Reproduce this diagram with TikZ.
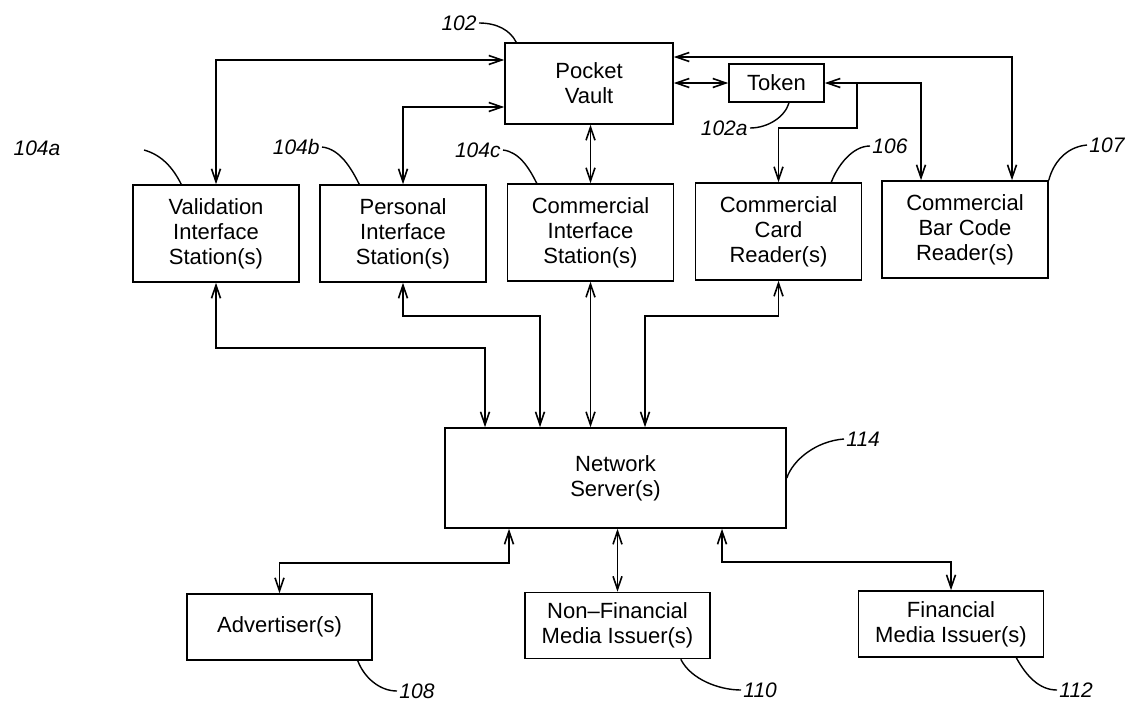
\documentclass[tikz,border=0pt]{standalone}
\usepackage{fontspec}
\setmainfont{Liberation Sans}
\usetikzlibrary{arrows.meta,calc}

\begin{document}
\begin{tikzpicture}[
  x=0.5pt, y=-0.5pt,
  >={Straight Barb[length=6.5pt,width=4.5pt]},
  box/.style={draw, line width=0.8pt, align=center, inner sep=2pt,
    font=\fontsize{11pt}{12.5pt}\selectfont},
  station/.style={box, minimum width=83pt, minimum height=48.5pt},
  party/.style={box, minimum width=92.5pt, minimum height=33pt},
  link/.style={line width=0.8pt},
  num/.style={font=\fontsize{10.5pt}{12pt}\selectfont\itshape, inner sep=1pt},
  lead/.style={line width=0.7pt}
]
  \useasboundingbox (0,0) rectangle (1128,702);

  % top row
  \node[box, minimum width=84pt, minimum height=40.5pt] (vault) at (589,83.5) {Pocket\\Vault};
  \node[box, minimum width=47.5pt, minimum height=19pt] (token) at (776.5,83) {Token};

  % stations and readers
  \node[station] (valid) at (216,233.5) {Validation\\Interface\\Station(s)};
  \node[station] (personal) at (403,233.5) {Personal\\Interface\\Station(s)};
  \node[station] (comm) at (590.5,232.5) {Commercial\\Interface\\Station(s)};
  \node[station] (card) at (778.5,231.5) {Commercial\\Card\\Reader(s)};
  \node[station] (barcode) at (965,229.5) {Commercial\\Bar Code\\Reader(s)};

  % server and issuers
  \node[box, minimum width=170.5pt, minimum height=50pt] (net) at (615.5,478) {Network\\Server(s)};
  \node[party] (adv) at (279.5,627) {Advertiser(s)};
  \node[party] (nonfin) at (617.5,625.5) {Non--Financial\\Media Issuer(s)};
  \node[party] (fin) at (951,624) {Financial\\Media Issuer(s)};

  % links to the vault and token
  \draw[link,<->] (valid.north) |- ($(vault.west)+(0,-23.5)$);
  \draw[link,<->] (personal.north) |- ($(vault.west)+(0,23.5)$);
  \draw[link,<->] (comm.north |- vault.south) -- (comm.north);
  \draw[link,<->] (vault.east |- token.west) -- (token.west);
  \draw[link,<->] ($(vault.east)+(0,-26.5)$) -| ($(barcode.north)+(47,0)$);
  \draw[link,<->] (token.east) -| ($(barcode.north)+(-44,0)$);
  \coordinate (split) at ($(token.east)+(32,0)$);
  \draw[link,->] (split) -- ++(0,45) -| (card.north);

  % links to the server
  \draw[link,<->] (valid.south) -- ++(0,65) -| ($(net.north)+(-130.5,0)$);
  \draw[link,<->] (personal.south) -- ++(0,33) -| ($(net.north)+(-75.5,0)$);
  \draw[link,<->] (comm.south) -- (comm.south |- net.north);
  \draw[link,<->] (card.south) -- ++(0,35) -| ($(net.north)+(29.5,0)$);
  \draw[link,<->] ($(net.south)+(-106.5,0)$) -- ++(0,34) -| (adv.north);
  \draw[link,<->] (nonfin.north |- net.south) -- (nonfin.north);
  \draw[link,<->] ($(net.south)+(106.5,0)$) -- ++(0,33) -| (fin.north);

  % reference numerals
  \node[num, anchor=east] (n102) at (479,23) {102};
  \draw[lead] (n102.east) .. controls +(18,0) and +(-6,-12) .. ($(vault.north west)+(12,0)$);
  \node[num] (n104a) at (37,148) {104a};
  \coordinate (t104a) at (144,150);
  \draw[lead] (t104a) .. controls +(18,5) and +(-8,-16) .. ($(valid.north west)+(49,0)$);
  \node[num, anchor=east] (n104b) at (322,147) {104b};
  \draw[lead] (n104b.east) .. controls +(18,2) and +(-8,-16) .. ($(personal.north west)+(40,0)$);
  \node[num, anchor=east] (n104c) at (503,150) {104c};
  \draw[lead] (n104c.east) .. controls +(16,2) and +(-8,-16) .. ($(comm.north west)+(30,0)$);
  \node[num, anchor=east] (n102a) at (750,128) {102a};
  \draw[lead] (n102a.east) .. controls +(18,0) and +(-4,14) .. ($(token.south)+(12.5,0)$);
  \node[num, anchor=west] (n106) at (870,146) {106};
  \draw[lead] (n106.west) .. controls +(-18,0) and +(6,-16) .. ($(card.north east)+(-31,0)$);
  \node[num, anchor=west] (n107) at (1087,145) {107};
  \draw[lead] (n107.west) .. controls +(-22,2) and +(4,-16) .. (barcode.north east);
  \node[num, anchor=west] (n114) at (844,439) {114};
  \draw[lead] (n114.west) .. controls +(-28,2) and +(6,-18) .. (net.east);
  \node[num, anchor=west] (n108) at (397,691) {108};
  \draw[lead] ($(adv.south east)+(-15,0)$) .. controls +(6,16) and +(-18,0) .. (n108.west);
  \node[num, anchor=west] (n110) at (741,690) {110};
  \draw[lead] ($(nonfin.south east)+(-30,0)$) .. controls +(10,20) and +(-22,0) .. (n110.west);
  \node[num, anchor=west] (n112) at (1057,690) {112};
  \draw[lead] ($(fin.south east)+(-28,0)$) .. controls +(10,18) and +(-18,0) .. (n112.west);
\end{tikzpicture}
\end{document}
